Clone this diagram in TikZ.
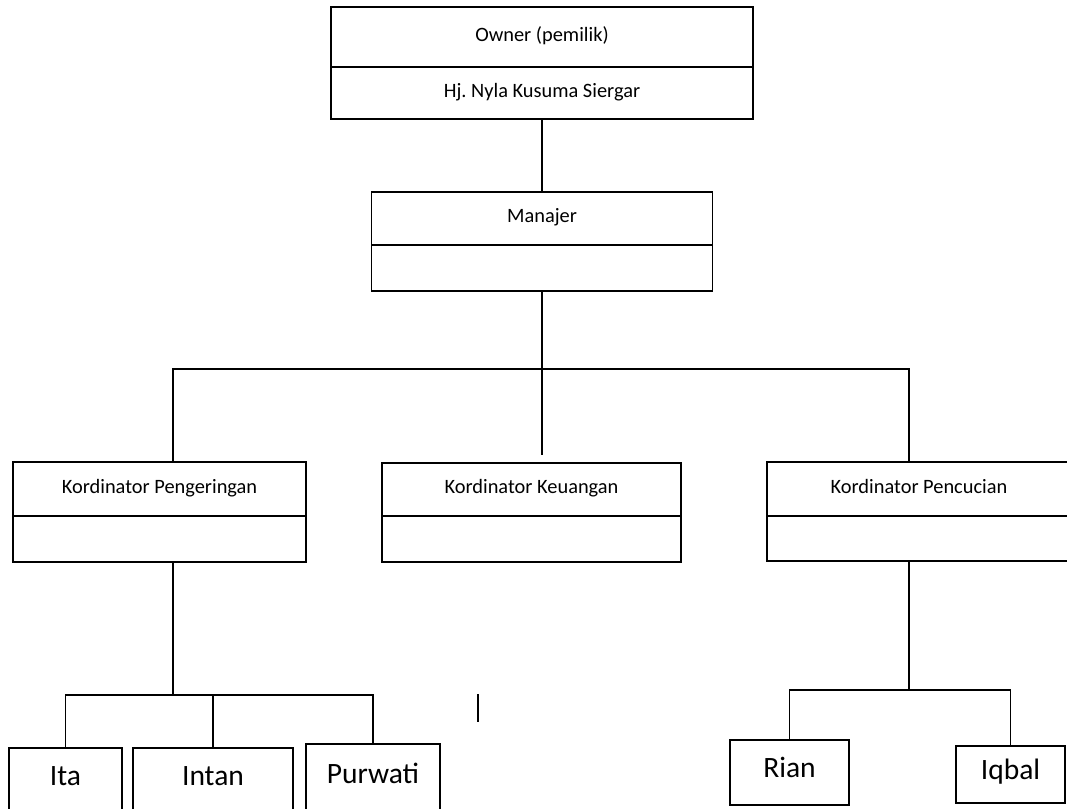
\documentclass[tikz,border=0pt]{standalone}
\usepackage{fontspec}
\setmainfont{Carlito}
\usepackage{tikz}
\usetikzlibrary{positioning, calc}
\newcommand\kecil{\fontsize{14.5}{17}\selectfont}
\newcommand\besar{\fontsize{21}{25}\selectfont}
\tikzset{kotak/.style={draw, line width=1.2pt, inner sep=0pt, outer sep=0pt, font=\kecil, align=center, text height=1.6ex, text depth=.4ex}}
\tikzset{nama/.style={kotak, font=\besar, text depth=0ex}}
\tikzset{ukuran/.style 2 args={minimum width=#1*0.025cm, minimum height=#2*0.025cm}}
\tikzset{garis/.style={draw, line width=1.2pt}}

\begin{document}
\begin{tikzpicture}[x=0.025cm, y=-0.025cm]
	\clip (0,0) rectangle (1067,809);
	% pimpinan
	\node[kotak, ukuran={422}{60}] (own) at (542,37) {Owner (pemilik)};
	\node[kotak, ukuran={422}{52}, below=0 of own] (ownnm) {Hj.\ Nyla Kusuma Siergar};
	\node[kotak, ukuran={341}{53}] (mgr) at (542,218.5) {Manajer};
	\node[kotak, ukuran={341}{46}, below=0 of mgr] (mgrnm) {};
	%
	\node[kotak, ukuran={293}{54}] (kp) at (159.5,489) {Kordinator Pengeringan};
	\node[kotak, ukuran={293}{46}, below=0 of kp] (kpnm) {};
	\node[kotak, ukuran={299}{53}] (kk) at (531.5,489.5) {Kordinator Keuangan};
	\node[kotak, ukuran={299}{46}, below=0 of kk] (kknm) {};
	\node[kotak, ukuran={304}{54}] (kc) at (919,489) {Kordinator Pencucian};
	\node[kotak, ukuran={304}{45}, below=0 of kc] (kcnm) {};
	% staf
	\node[nama, ukuran={113}{64}] (ita) at (65.5,780) {Ita};
	\node[nama, ukuran={160}{64}] (intan) at (213,780) {Intan};
	\node[nama, ukuran={134}{68}] (pur) at (373,778) {Purwati};
	\node[nama, ukuran={119}{65}] (rian) at (789.5,772.5) {Rian};
	\node[nama, ukuran={109}{57}] (iqbal) at (1010.5,774.5) {Iqbal};
	%
	\coordinate (bar) at (542,369);
	\coordinate (barA) at (173,695);
	\coordinate (barB) at (909,690);
	\coordinate (tick) at (478,694);
	%
	\draw[garis] (ownnm.south) -- (mgr.north);
	\draw[garis] (mgrnm.south) -- (bar);
	\draw[garis] (barA |- kp.north) |- (bar) -| (barB |- kc.north);
	\draw[garis, shorten >=0.2cm] (bar) -- (bar |- kk.north);
	\draw[garis] (barA |- kpnm.south) -- (barA);
	\draw[garis] (ita.north) |- (barA) -| (pur.north);
	\draw[garis] (intan.north) -- (intan.north |- barA);
	\draw[garis] (barB |- kcnm.south) -- (barB);
	\draw[garis] (rian.north) |- (barB) -| (iqbal.north);
	\draw[line width=0.9pt] (tick) -- ++(0,28);
\end{tikzpicture}
\end{document}
